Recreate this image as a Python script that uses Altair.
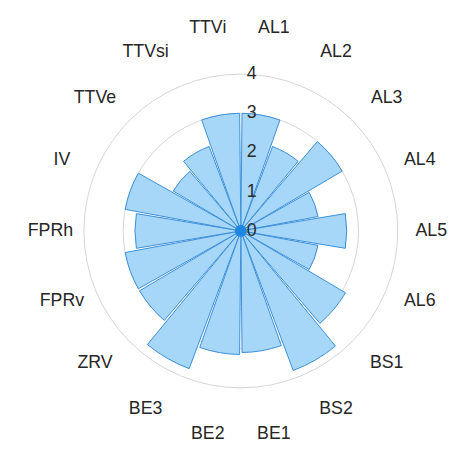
import math
import altair as alt
import pandas as pd

# ---- data ----
categories = ["AL1", "AL2", "AL3", "AL4", "AL5", "AL6", "BS1", "BS2", "BE1",
              "BE2", "BE3", "ZRV", "FPRv", "FPRh", "IV", "TTVe", "TTVsi", "TTVi"]
values = [3.0, 2.3, 3.0, 2.0, 2.7, 2.0, 3.1, 3.8, 3.1,
          3.15, 3.75, 3.0, 3.0, 2.7, 3.0, 2.0, 2.3, 3.0]
r_ticks = [0, 1, 2, 3, 4]
grid_rings = [1, 2, 3, 4]

n = len(categories)
step = 360.0 / n
df = pd.DataFrame({
    "cat": categories,
    "value": values,
    "start": [i * step for i in range(n)],
    "end": [(i + 1) * step for i in range(n)],
    "mid": [(i + 0.5) * step for i in range(n)],
})
ticks_df = pd.DataFrame({"tick": r_ticks, "label": [str(t) for t in r_ticks]})
rings_df = pd.DataFrame({"ring": grid_rings})

CX, CY = 236, 223
theta_scale = alt.Scale(domain=[0, 360], range=[0, 2 * math.pi], nice=False)
r_scale = alt.Scale(type="linear", domain=[0, 4], range=[0, 159], nice=False, zero=True)
FONT = "Liberation Sans"
LRX, LRY = 193, 209

rings = alt.Chart(rings_df).mark_arc(
    fillOpacity=0, stroke="#d4d4d4", strokeWidth=1
).encode(
    x=alt.value(CX), y=alt.value(CY),
    theta=alt.value(0), theta2=alt.value(2 * math.pi),
    radius=alt.Radius("ring:Q", scale=r_scale, stack=None),
)

bars = alt.Chart(df).mark_arc(
    fill="#a6d6f8", stroke="#3a8ed8", strokeWidth=1, padAngle=0.02
).encode(
    x=alt.value(CX), y=alt.value(CY),
    theta=alt.Theta("start:Q", scale=theta_scale, stack=None),
    theta2="end:Q",
    radius=alt.Radius("value:Q", scale=r_scale, stack=None),
)

hub = alt.Chart(rings_df.head(1)).mark_arc(fill="#1f86e0").encode(
    x=alt.value(CX), y=alt.value(CY),
    theta=alt.value(0), theta2=alt.value(2 * math.pi),
    radius=alt.value(6),
)

tick_labels = alt.Chart(ticks_df).mark_text(
    font=FONT, fontSize=18, color="#2b2b2b", dx=11, baseline="middle", align="center"
).encode(
    x=alt.value(CX), y=alt.value(CY),
    theta=alt.value(0),
    radius=alt.Radius("tick:Q", scale=r_scale, stack=None),
    text="label:N",
)

cat_labels = alt.Chart(df).transform_calculate(
    lx="sin(datum.mid * PI / 180)",
    ly="cos(datum.mid * PI / 180)",
).mark_text(
    font=FONT, fontSize=18, color="#262626", baseline="middle", align="center"
).encode(
    x=alt.X("lx:Q", scale=alt.Scale(domain=[-1, 1], range=[CX - LRX, CX + LRX]), axis=None),
    y=alt.Y("ly:Q", scale=alt.Scale(domain=[-1, 1], range=[CY + LRY, CY - LRY]), axis=None),
    text="cat:N",
)

chart = alt.layer(rings, bars, hub, tick_labels, cat_labels).properties(
    width=447, height=439,
    autosize=alt.AutoSizeParams(type="none"),
    padding=0,
    background="white",
).configure_view(stroke=None)

chart.save("out.html", embed_options={"renderer": "svg", "actions": False})
